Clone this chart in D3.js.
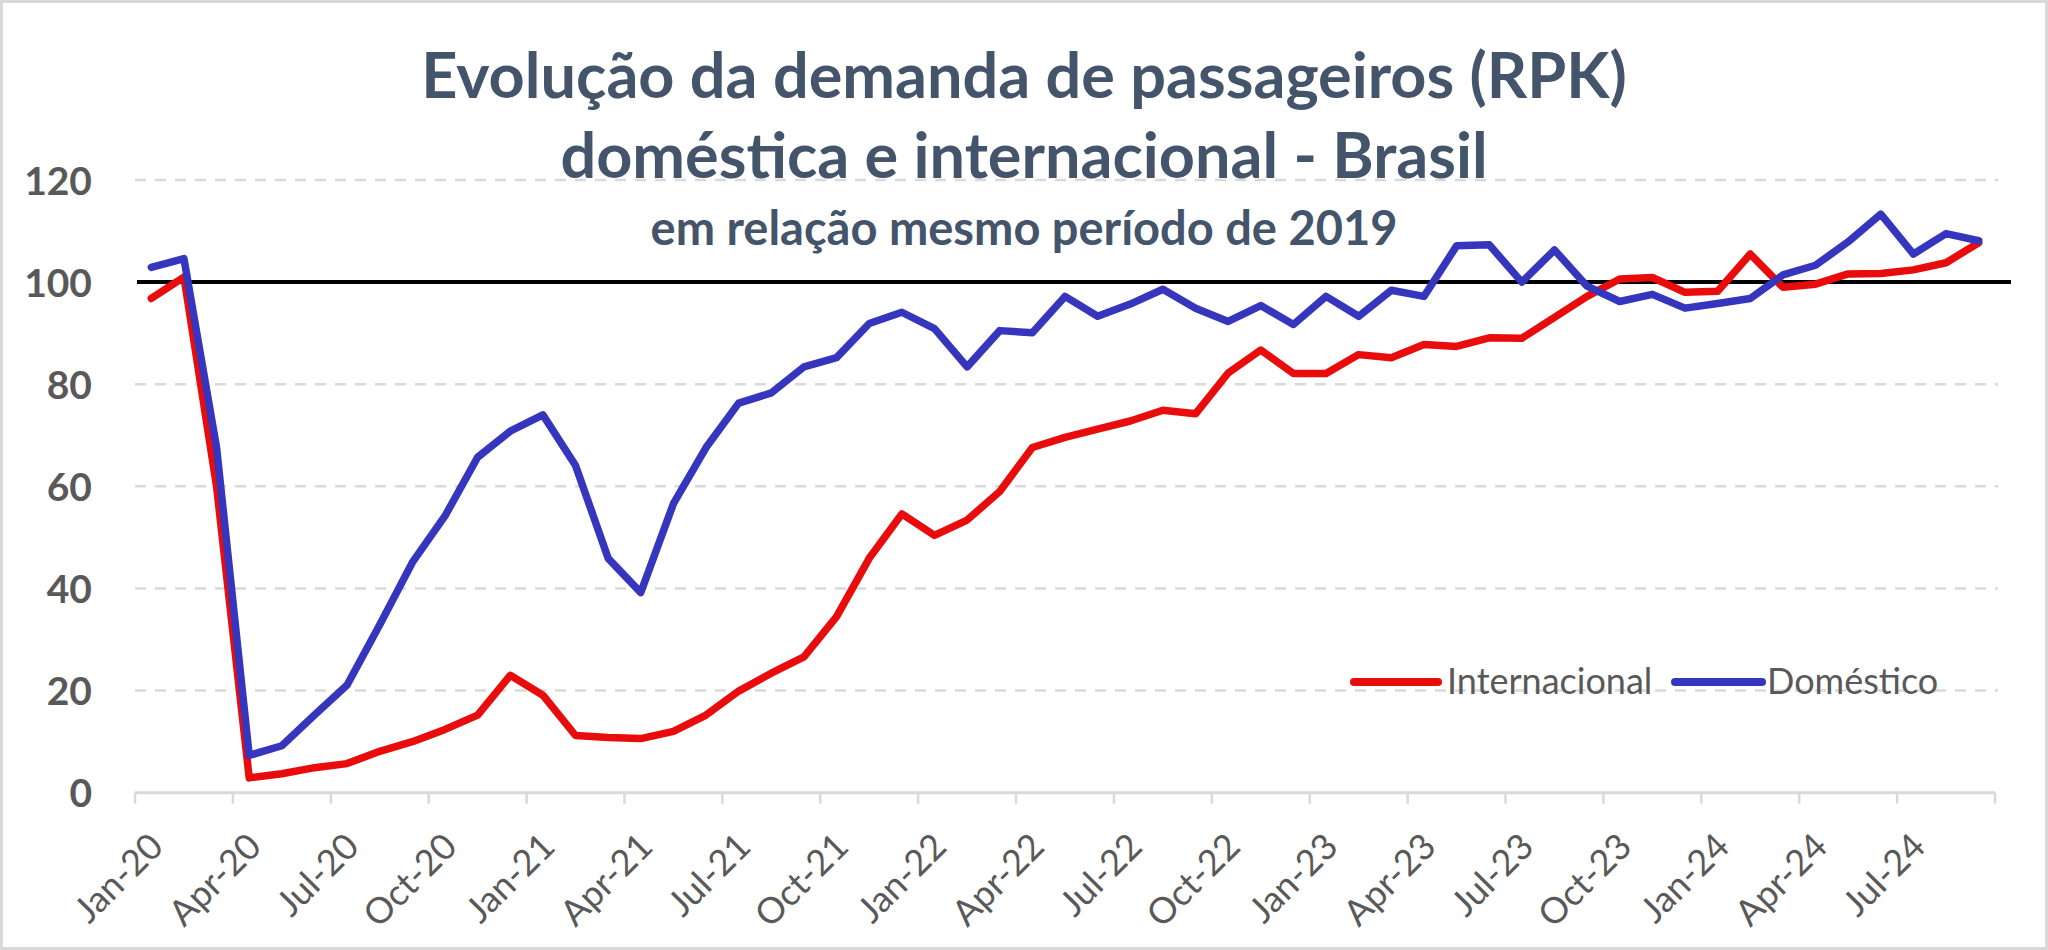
<!DOCTYPE html>
<html>
<head>
<meta charset="utf-8">
<script src="https://cdn.jsdelivr.net/npm/d3@7"></script>
<style>
  html, body { margin: 0; padding: 0; background: #fff; }
  svg { display: block; }
</style>
</head>
<body>
<svg id="chart" width="2048" height="950"></svg>
<script>
// ---------------- DATA ----------------
const months = [
  "Jan-20","Feb-20","Mar-20","Apr-20","May-20","Jun-20","Jul-20","Aug-20","Sep-20","Oct-20","Nov-20","Dec-20",
  "Jan-21","Feb-21","Mar-21","Apr-21","May-21","Jun-21","Jul-21","Aug-21","Sep-21","Oct-21","Nov-21","Dec-21",
  "Jan-22","Feb-22","Mar-22","Apr-22","May-22","Jun-22","Jul-22","Aug-22","Sep-22","Oct-22","Nov-22","Dec-22",
  "Jan-23","Feb-23","Mar-23","Apr-23","May-23","Jun-23","Jul-23","Aug-23","Sep-23","Oct-23","Nov-23","Dec-23",
  "Jan-24","Feb-24","Mar-24","Apr-24","May-24","Jun-24","Jul-24","Aug-24","Sep-24"
];
const internacional = [
  96.8, 101.0, 60.0, 2.9, 3.7, 4.9, 5.7, 8.1, 10.0, 12.4, 15.2, 23.0,
  19.1, 11.2, 10.8, 10.6, 12.0, 15.2, 19.9, 23.4, 26.6, 34.5, 45.9, 54.6,
  50.4, 53.4, 59.0, 67.6, 69.6, 71.2, 72.8, 74.9, 74.2, 82.2, 86.7, 82.1,
  82.1, 85.8, 85.2, 87.8, 87.4, 89.1, 89.0, 93.1, 97.2, 100.6, 100.9, 98.0,
  98.2, 105.5, 99.0, 99.6, 101.6, 101.7, 102.4, 103.8, 107.7
];
const domestico = [
  102.9, 104.6, 67.6, 7.3, 9.2, 15.2, 21.1, 32.9, 45.1, 54.2, 65.7, 70.8,
  74.0, 64.1, 45.9, 39.2, 56.6, 67.6, 76.3, 78.3, 83.4, 85.2, 91.9, 94.1,
  90.9, 83.4, 90.5, 90.1, 97.2, 93.3, 95.7, 98.6, 94.9, 92.3, 95.4, 91.7,
  97.2, 93.3, 98.4, 97.2, 107.1, 107.3, 100.0, 106.3, 99.2, 96.2, 97.6, 94.9,
  95.8, 96.8, 101.4, 103.3, 107.9, 113.3, 105.5, 109.5, 108.1
];
const yTicks = [0, 20, 40, 60, 80, 100, 120];
const gridValues = [20, 40, 60, 80, 120];
const referenceValue = 100;
const titleLines = ["Evolução da demanda de passageiros (RPK)", "doméstica e internacional - Brasil"];
const subtitle = "em relação mesmo período de 2019";
const seriesNames = ["Internacional", "Doméstico"];
const seriesColors = ["#E80C0C", "#3535BE"];

// ---------------- LAYOUT ----------------
const svg = d3.select("#chart");
const W = 2048, H = 950;
const plot = { left: 135, right: 1995, top: 180, bottom: 792.7 };
const FONT = "Lato, 'Open Sans', sans-serif";
const TXT = "#595959";
const TITLE_COL = "#44546A";

// border
svg.append("rect").attr("x", 1.5).attr("y", 1.5).attr("width", W - 3).attr("height", H - 3)
  .attr("fill", "#fff").attr("stroke", "#D9D9D9").attr("stroke-width", 3);

const x = d3.scaleBand().domain(months).range([plot.left, plot.right]).padding(0);
const cx = m => x(m) + x.bandwidth() / 2;
const y = d3.scaleLinear().domain([0, 120]).range([plot.bottom, plot.top]);

// grid
svg.append("g").selectAll("line").data(gridValues).join("line")
  .attr("x1", plot.left).attr("x2", plot.right + 3)
  .attr("y1", d => y(d)).attr("y2", d => y(d))
  .attr("stroke", "#D9D9D9").attr("stroke-width", 2.5).attr("stroke-dasharray", "11,9");

// y-axis labels
const yAxis = d3.axisLeft(y).tickValues(yTicks).tickSize(0).tickPadding(0);
const gy = svg.append("g").attr("transform", "translate(92,0)").call(yAxis);
gy.select(".domain").remove();
gy.selectAll("text").attr("font-family", FONT).attr("font-size", 39).attr("font-weight", 700)
  .attr("fill", TXT).attr("dy", "0.36em");

// x-axis
const tickMonths = months.filter((m, i) => i % 3 === 0);
const gx = svg.append("g").attr("transform", `translate(0,${plot.bottom})`);
gx.append("line").attr("x1", plot.left).attr("x2", plot.right).attr("y1", 0).attr("y2", 0)
  .attr("stroke", "#D9D9D9").attr("stroke-width", 3);
gx.selectAll("line.tick").data(tickMonths.concat(["__end"])).join("line").attr("class", "tick")
  .attr("x1", d => d === "__end" ? plot.right : x(d)).attr("x2", d => d === "__end" ? plot.right : x(d))
  .attr("y1", 0).attr("y2", 11).attr("stroke", "#D9D9D9").attr("stroke-width", 2.5);
gx.selectAll("text").data(tickMonths).join("text")
  .attr("transform", d => `translate(${cx(d) + 14},56) rotate(-45)`)
  .attr("text-anchor", "end")
  .attr("font-family", FONT).attr("font-size", 36).attr("fill", TXT)
  .text(d => d);

// reference line at 100
svg.append("line").attr("x1", plot.left + 2).attr("x2", 2011)
  .attr("y1", y(referenceValue)).attr("y2", y(referenceValue))
  .attr("stroke", "#000").attr("stroke-width", 4);

// series
const series = [internacional, domestico];
const line = d3.line().x((d, i) => cx(months[i])).y(d => y(d));
series.forEach((vals, k) => {
  svg.append("path").datum(vals).attr("d", line)
    .attr("fill", "none").attr("stroke", seriesColors[k]).attr("stroke-width", 7.5)
    .attr("stroke-linejoin", "round").attr("stroke-linecap", "round");
});

// titles
const tg = svg.append("g").attr("font-family", FONT).attr("font-weight", 700).attr("fill", TITLE_COL)
  .attr("text-anchor", "middle");
tg.append("text").attr("x", 1024).attr("y", 98).attr("font-size", 63).text(titleLines[0]);
tg.append("text").attr("x", 1024).attr("y", 178).attr("font-size", 63).text(titleLines[1]);
tg.append("text").attr("x", 1024).attr("y", 245).attr("font-size", 47).text(subtitle);

// legend
const legendItems = [
  { x1: 1354, x2: 1438, tx: 1447 },
  { x1: 1675, x2: 1762, tx: 1767 }
];
const lg = svg.append("g");
legendItems.forEach((it, k) => {
  lg.append("line").attr("x1", it.x1).attr("x2", it.x2).attr("y1", 682).attr("y2", 682)
    .attr("stroke", seriesColors[k]).attr("stroke-width", 8).attr("stroke-linecap", "round");
  lg.append("text").attr("x", it.tx).attr("y", 694).attr("font-family", FONT).attr("font-size", 36)
    .attr("fill", TXT).text(seriesNames[k]);
});
</script>
</body>
</html>
